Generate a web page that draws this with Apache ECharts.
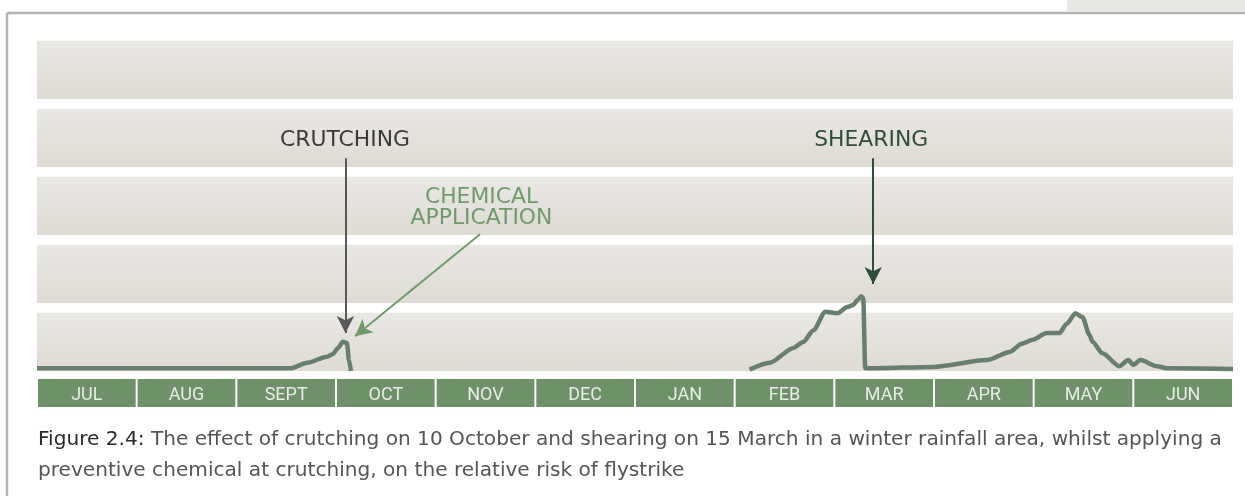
<!DOCTYPE html>
<html>
<head>
<meta charset="utf-8">
<script src="https://cdn.jsdelivr.net/npm/echarts@6/dist/echarts.min.js"></script>
<style>
  html, body { margin: 0; padding: 0; background: #fff; }
  #chart { width: 1245px; height: 496px; }
</style>
</head>
<body>
<div id="chart"></div>
<script>
// months along the bottom strip
var months = ['JUL', 'AUG', 'SEPT', 'OCT', 'NOV', 'DEC', 'JAN', 'FEB', 'MAR', 'APR', 'MAY', 'JUN'];
var monthFill = [1, 1, 1, 1, 1, 1, 1, 1, 1, 1, 1, 1];

// risk levels drawn as grey bands (0 = lowest)
var bandLevels = [0, 1, 2, 3, 4];

// relative risk of flystrike, x in months from 1 July, y in band units
var riskBeforeCrutching = [
    [0, 0.04], [2.54, 0.04], [2.71, 0.12], [2.91, 0.21], [2.97, 0.25],
    [3.02, 0.34], [3.07, 0.43], [3.11, 0.41], [3.13, 0.16], [3.15, 0.0]
];
var riskAfterChemical = [
    [7.15, 0.02], [7.35, 0.12], [7.59, 0.34], [7.69, 0.43], [7.79, 0.60],
    [7.91, 0.87], [8.03, 0.85], [8.13, 0.94], [8.19, 0.97], [8.23, 1.04],
    [8.27, 1.10], [8.29, 1.07], [8.31, 0.04], [8.36, 0.04], [8.99, 0.06],
    [9.53, 0.16], [9.76, 0.28], [9.88, 0.40], [9.99, 0.46], [10.13, 0.56],
    [10.26, 0.56], [10.33, 0.69], [10.42, 0.85], [10.49, 0.79], [10.56, 0.53],
    [10.59, 0.43], [10.69, 0.26], [10.86, 0.07], [10.95, 0.16], [11.0, 0.09],
    [11.07, 0.16], [11.24, 0.07], [11.34, 0.04], [12, 0.03]
];

// annotations: [label, x, y], arrow from -> to
var crutchLabel = ['CRUTCHING', 3.09, 3.39];
var crutchArrow = [[3.095, 3.13], [3.095, 0.56]];
var shearLabel = ['SHEARING', 8.37, 3.39];
var shearArrow = [[8.39, 3.13], [8.39, 1.28]];
var chemLabel = ['CHEMICAL\nAPPLICATION', 4.46, 2.40];
var chemArrow = [[4.445, 2.01], [3.19, 0.51]];

var captionHead = 'Figure 2.4:';
var caption1 = 'The effect of crutching on 10 October and shearing on 15 March in a winter rainfall area, whilst applying a';
var caption2 = 'preventive chemical at crutching, on the relative risk of flystrike';

var fontMain = 'DejaVu Sans';

// pick font sizes so text widths follow the original
var ctx = document.createElement('canvas').getContext('2d');
function fitSize(text, target) {
    ctx.font = '100px "' + fontMain + '"';
    return 100 * target / ctx.measureText(text).width;
}
var capSize = fitSize(captionHead + ' ' + caption1, 1185);
var labSize = fitSize('CRUTCHING', 130);

var chartDom = document.getElementById('chart');
var myChart = echarts.init(chartDom, null, { renderer: 'canvas' });

var bandColor = new echarts.graphic.LinearGradient(0, 0, 0, 1, [
    { offset: 0, color: '#eae8e4' },
    { offset: 1, color: '#dedbd4' }
]);

var bandData = [];
for (var i = 0; i < bandLevels.length; i++) {
    bandData.push([{ yAxis: bandLevels[i] }, { yAxis: bandLevels[i] + 0.855 }]);
}

function arrowItem(arr, color) {
    return [
        { coord: arr[0], symbol: 'none', lineStyle: { color: color, width: 2, type: 'solid' } },
        { coord: arr[1], symbol: 'arrow', symbolSize: [13, 17], itemStyle: { color: color } }
    ];
}

function labelItem(lab, color) {
    return {
        coord: [lab[1], lab[2]],
        name: lab[0],
        symbol: 'circle',
        symbolSize: 0,
        label: {
            show: true, position: 'inside', formatter: '{b}',
            color: color, fontSize: labSize, lineHeight: 21, fontFamily: fontMain, align: 'center'
        }
    };
}

var lineStyle = { color: '#687f6b', width: 4.5, cap: 'butt', join: 'round' };

var option = {
    animation: false,
    grid: [
        { left: 37, right: 12, top: 31, bottom: 125 },
        { left: 37, right: 12, top: 379, height: 28 }
    ],
    xAxis: [
        { gridIndex: 0, type: 'value', min: 0, max: 12, show: false },
        {
            gridIndex: 1, type: 'category', data: months, show: true,
            axisLine: { show: false }, axisTick: { show: false }, axisLabel: { show: false }
        }
    ],
    yAxis: [
        { gridIndex: 0, type: 'value', min: 0, max: 5, show: false },
        { gridIndex: 1, type: 'value', min: 0, max: 1, show: false }
    ],
    graphic: [
        { type: 'line', shape: { x1: 7, y1: 13, x2: 1245, y2: 13 }, style: { stroke: '#b4b4b4', lineWidth: 2.5 } },
        { type: 'line', shape: { x1: 7, y1: 13, x2: 7, y2: 496 }, style: { stroke: '#b4b4b4', lineWidth: 2.5 } },
        { type: 'rect', shape: { x: 1067, y: 0, width: 178, height: 11 }, style: { fill: '#e9e7e3' } },
        {
            type: 'text', x: 38, y: 440,
            style: {
                text: '{b|' + captionHead + '} ' + caption1,
                rich: {
                    b: { fontFamily: fontMain, fontSize: capSize, fill: '#2a2a2a', color: '#2a2a2a' }
                },
                fontFamily: fontMain, fontSize: capSize, fill: '#555555', verticalAlign: 'middle'
            }
        },
        {
            type: 'text', x: 38, y: 471,
            style: {
                text: caption2, fontFamily: fontMain, fontSize: capSize, fill: '#555555',
                verticalAlign: 'middle'
            }
        }
    ],
    series: [
        {
            type: 'line', xAxisIndex: 0, yAxisIndex: 0, data: [], silent: true,
            markArea: { silent: true, itemStyle: { color: bandColor }, data: bandData }
        },
        {
            type: 'line', xAxisIndex: 0, yAxisIndex: 0, data: riskBeforeCrutching,
            showSymbol: false, lineStyle: lineStyle, z: 3, smooth: 0.25, smoothMonotone: 'x'
        },
        {
            type: 'line', xAxisIndex: 0, yAxisIndex: 0, data: riskAfterChemical,
            showSymbol: false, lineStyle: lineStyle, z: 3, smooth: 0.25, smoothMonotone: 'x',
            markLine: {
                silent: true,
                label: { show: false },
                data: [
                    arrowItem(crutchArrow, '#58585a'),
                    arrowItem(shearArrow, '#2f4d37'),
                    arrowItem(chemArrow, '#709a6c')
                ]
            },
            markPoint: {
                silent: true,
                data: [
                    labelItem(crutchLabel, '#3a3a3a'),
                    labelItem(shearLabel, '#2f4d37'),
                    labelItem(chemLabel, '#709a6c')
                ]
            }
        },
        {
            type: 'bar', xAxisIndex: 1, yAxisIndex: 1, data: monthFill,
            barCategoryGap: '2%', silent: true,
            itemStyle: { color: '#6f916a' },
            label: {
                show: true, position: 'inside', formatter: '{b}', offset: [0, 2],
                color: '#e6ede4', fontSize: 18, fontFamily: '"Liberation Sans Narrow", Roboto, sans-serif'
            }
        }
    ]
};

option && myChart.setOption(option);
</script>
</body>
</html>
